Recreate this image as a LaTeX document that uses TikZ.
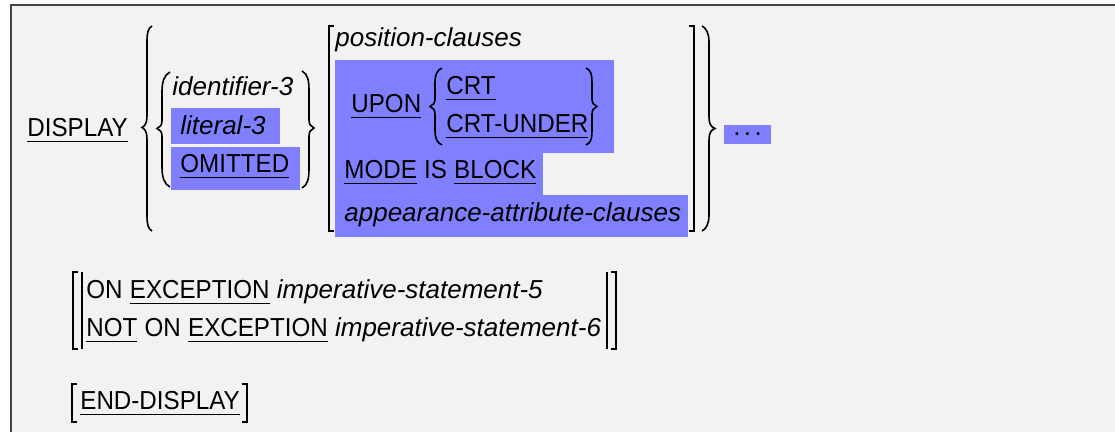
\documentclass[tikz,border=0pt]{standalone}
\usepackage{fontspec}
\usetikzlibrary{calc}
\setmainfont{Liberation Sans}
\newfontfamily\upfont{Liberation Sans}[FakeStretch=0.93]
\definecolor{hl}{HTML}{8080FF}
\definecolor{panel}{HTML}{F2F2F2}
\definecolor{framegray}{HTML}{444444}
% keyword: upright, underlined
\newcommand\kw[1]{\vtop{\hbox{\upfont #1}\kern1.8pt\hrule height .75pt}}
\newcommand\up[1]{{\upfont #1}}
\tikzset{
  txt/.style={anchor=base west, inner sep=0pt, font=\fontsize{13pt}{15pt}\selectfont},
  ittxt/.style={txt, font=\fontsize{13pt}{15pt}\selectfont\itshape},
  delim/.style={line width=0.8pt, black},
  brk/.style={line width=0.9pt, black, line join=miter},
}
\begin{document}
\begin{tikzpicture}[x=0.5pt, y=-0.5pt]
\useasboundingbox (0,0) rectangle (1115,432);
% panel and its frame
\fill[white] (0,0) rectangle (1115,432);
\fill[panel] (11,5) rectangle (1115,432);
\draw[framegray, line width=0.85pt] (11,432) -- (11,5) -- (1115,5);

% highlighted alternatives
\fill[hl] (171,108) rectangle (280,144);
\fill[hl] (171,147) rectangle (300,190);
\fill[hl] (335,60) rectangle (614,153);
\fill[hl] (335,153) rectangle (543,195);
\fill[hl] (335,195) rectangle (688,237);
\fill[hl] (724,125) rectangle (771,144);

% first line of the format
\node[txt] (disp) at (27,137) {\kw{DISPLAY}};

% big left brace
\draw[delim] (152,26) .. controls (148,28) and (147,33) .. (147,42) -- (147,116)
  .. controls (147,123) and (145,126) .. (142,127.5)
  .. controls (145,129) and (147,132) .. (147,139) -- (147,215)
  .. controls (147,224) and (148,229) .. (152,231);

% inner braces round the operands
\draw[delim] (170,72) .. controls (164,75) and (162,82) .. (162,92) -- (162,121)
  .. controls (162,125) and (160,127.5) .. (157,128.5)
  .. controls (160,129.5) and (162,132) .. (162,136) -- (162,167)
  .. controls (162,177) and (164,184) .. (170,187);
\draw[delim] (302,71) .. controls (308,74) and (309,81) .. (309,91) -- (309,120)
  .. controls (309,124) and (311,127) .. (314,128)
  .. controls (311,129) and (309,132) .. (309,136) -- (309,168)
  .. controls (309,178) and (308,185) .. (302,188);

\node[ittxt] (id3) at (172,96) {identifier-3};
\node[ittxt] (lit3) at (180,135) {literal-3};
\node[txt] (omit) at (180,173) {\kw{OMITTED}};

% optional clauses in square brackets
\draw[brk] (334,26) -- (329,26) -- (329,231) -- (334,231);
\draw[brk] (689,26) -- (694,26) -- (694,231) -- (689,231);

\node[ittxt] (pos) at (335,47) {position-clauses};
\node[txt] (upon) at (351,113) {\kw{UPON}};

% braces round the device names
\draw[delim] (442,68) .. controls (437,70) and (435,75) .. (435,82) -- (435,99)
  .. controls (435,103) and (433,105.5) .. (430,106.5)
  .. controls (433,107.5) and (435,110) .. (435,114) -- (435,131)
  .. controls (435,138) and (437,143) .. (442,145);
\draw[delim] (586,68) .. controls (591,70) and (592,75) .. (592,82) -- (592,99)
  .. controls (592,103) and (594,105.5) .. (597,106.5)
  .. controls (594,107.5) and (592,110) .. (592,114) -- (592,131)
  .. controls (592,138) and (591,143) .. (586,145);

\node[txt] (crt) at (446,95) {\kw{CRT}};
\node[txt] (crtu) at (446,133) {\kw{CRT-UNDER}};
\node[txt] (mode) at (344,179) {\kw{MODE} \up{IS} \kw{BLOCK}};
\node[ittxt] (appr) at (344,222) {appearance-attribute-clauses};

% big right brace
\draw[delim] (702,26) .. controls (706,28) and (709,33) .. (709,42) -- (709,117)
  .. controls (709,124) and (711,127) .. (715,128.5)
  .. controls (711,130) and (709,133) .. (709,140) -- (709,215)
  .. controls (709,224) and (706,229) .. (702,231);

\node[txt, anchor=base] (dots) at (747.5,135.5) {.\kern1.7pt.\kern1.7pt.};

% exception phrases
\draw[brk] (78,272) -- (73,272) -- (73,349) -- (78,349);
\draw[brk] (82,272) -- (82,349);
\draw[brk] (607,272) -- (607,349);
\draw[brk] (611,272) -- (616,272) -- (616,349) -- (611,349);
\node[txt] (onexc) at (86,299) {\up{ON} \kw{EXCEPTION} \textit{imperative-statement-5}};
\node[txt] (notexc) at (86,337) {\kw{NOT} \up{ON} \kw{EXCEPTION} \textit{imperative-statement-6}};

% scope terminator
\draw[brk] (77,384) -- (72,384) -- (72,422) -- (77,422);
\node[txt] (enddisp) at (80,410) {\kw{END-DISPLAY}};
\draw[brk] ($(enddisp.base east)+(2,-26)$) -- ++(5,0) -- ++(0,38) -- ++(-5,0);
\end{tikzpicture}
\end{document}
